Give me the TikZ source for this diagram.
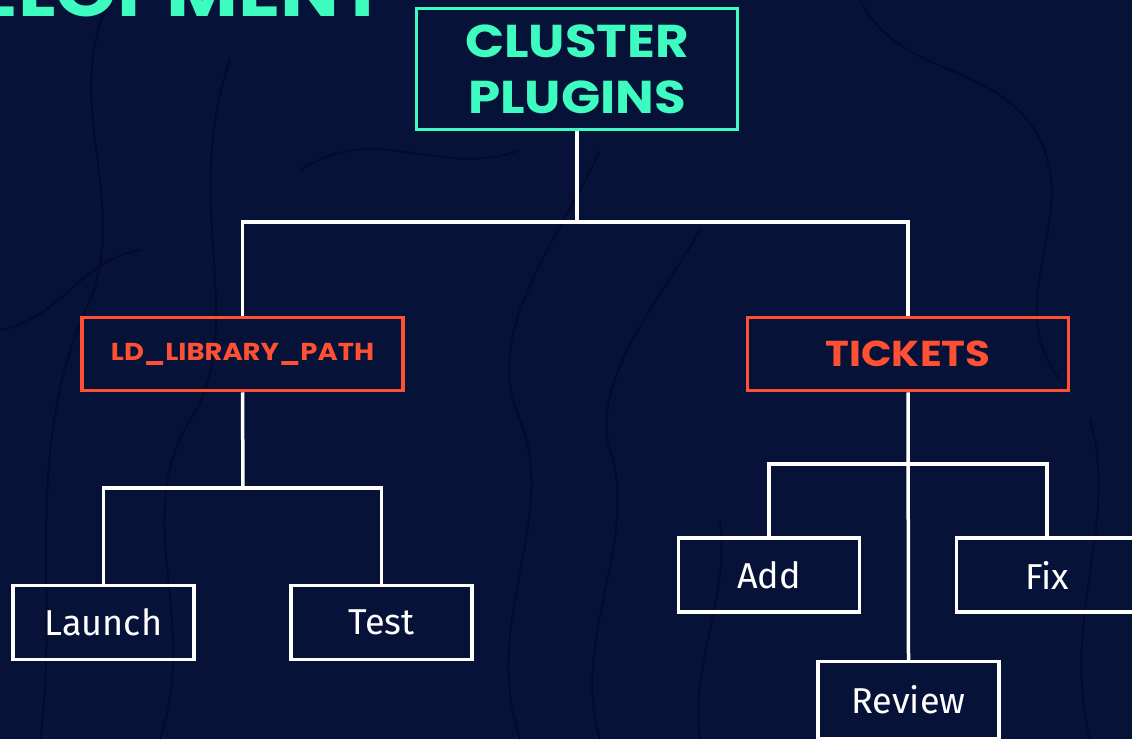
\documentclass[tikz,border=0pt]{standalone}
\usepackage{fontspec}
\newfontfamily\headfont{Poppins}[FakeStretch=1.12]
\newfontfamily\bodyfont{Fira Sans}
\definecolor{bg}{HTML}{071238}
\definecolor{mint}{HTML}{3EFBC0}
\definecolor{coral}{HTML}{FF5033}
\definecolor{topo}{HTML}{030925}
\begin{document}
\begin{tikzpicture}[x=1pt,y=-1pt,
  boxg/.style={draw=mint,line width=3.5pt,minimum width=321pt,minimum height=121pt,inner sep=0pt,
    text=mint,font=\headfont\bfseries\fontsize{46}{56}\selectfont,align=center},
  boxo/.style={draw=coral,line width=3.5pt,minimum width=321pt,minimum height=73pt,inner sep=0pt,text=coral},
  boxw/.style={draw=white,line width=3.5pt,minimum width=181pt,minimum height=74pt,inner sep=0pt,
    text=white,font=\bodyfont\fontsize{36}{40}\selectfont},
  conn/.style={draw=white,line width=3.5pt},
  topoline/.style={draw=topo,line width=2pt,opacity=0.7}]
\useasboundingbox (0,0) rectangle (1132,739);
\clip (0,0) rectangle (1132,739);
\fill[bg] (0,0) rectangle (1132,739);
% topographic background
\draw[topoline] (40,739) .. controls (60,600) and (20,450) .. (90,300) .. controls (130,200) and (60,100) .. (110,0);
\draw[topoline] (160,739) .. controls (200,620) and (130,520) .. (190,420) .. controls (250,330) and (180,200) .. (230,60);
\draw[topoline] (520,739) .. controls (480,620) and (560,520) .. (520,420) .. controls (480,330) and (560,240) .. (600,150);
\draw[topoline] (600,739) .. controls (570,640) and (640,540) .. (610,450) .. controls (590,380) and (660,300) .. (700,230);
\draw[topoline] (860,0) .. controls (900,80) and (1000,60) .. (1040,140) .. controls (1080,220) and (1000,300) .. (1060,380);
\draw[topoline] (1090,739) .. controls (1060,620) and (1120,520) .. (1090,420);
\draw[topoline] (700,739) .. controls (690,660) and (730,600) .. (720,520);
\draw[topoline] (0,330) .. controls (60,320) and (80,260) .. (140,250);
\draw[topoline] (300,170) .. controls (380,120) and (440,180) .. (520,150);
% title fragment
\node[anchor=base east,inner sep=0pt,text=mint,font=\headfont\bfseries\fontsize{70}{74}\selectfont] (title) at (386,16) {DEVELOPMENT};
% nodes
\node[boxg] (top) at (577,69) {CLUSTER\\PLUGINS};
\node[boxo,font=\headfont\bfseries\fontsize{24.5}{28}\selectfont] (ld) at (242.5,354) {LD\_LIBRARY\_PATH};
\node[boxo,font=\headfont\bfseries\fontsize{36}{40}\selectfont] (tk) at (908,354) {TICKETS};
\node[boxw] (la) at (103.5,622.5) {Launch};
\node[boxw] (te) at (381.5,622.5) {Test};
\node[boxw] (ad) at (769,575) {Add};
\node[boxw] (fx) at (1047,575) {Fix};
\node[boxw,minimum height=77pt] (rv) at (908.5,700) {Review};
% junctions
\coordinate (j1) at (577,222);
\coordinate (j2) at (243,488);
\coordinate (j3) at (908,464);
% connectors
\draw[conn] (top.south) -- (j1);
\draw[conn] (ld.north) |- (j1) -| (tk.north);
\draw[conn] (ld.south) -- (j2);
\draw[conn] (la.north) |- (j2) -| (te.north);
\draw[conn] (tk.south) -- (rv.north);
\draw[conn] (ad.north) |- (j3) -| (fx.north);
\end{tikzpicture}
\end{document}
